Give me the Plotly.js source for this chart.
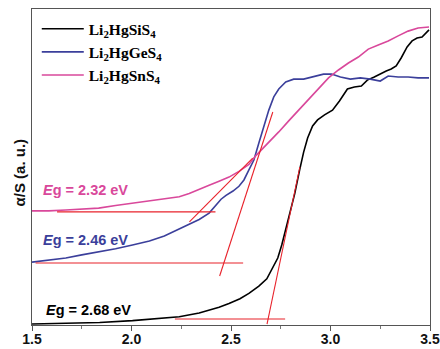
<!DOCTYPE html>
<html>
<head>
<meta charset="utf-8">
<script src="https://cdn.plot.ly/plotly-3.0.1.min.js"></script>
<style>html,body{margin:0;padding:0;background:#fff;}#chart{width:440px;height:349px;}</style>
</head>
<body>
<div id="chart"></div>
<script>
// Li2HgSiS4 (black)
const siX = [1.50,1.67,1.84,2.005,2.14,2.24,2.34,2.44,2.49,2.545,2.59,2.64,2.68,2.71,2.735,2.755,2.775,2.795,2.82,2.845,2.865,2.885,2.91,2.935,2.97,3.01,3.045,3.085,3.12,3.155,3.185,3.22,3.245,3.28,3.305,3.33,3.355,3.385,3.41,3.435,3.46,3.48,3.495];
const siY = [0.003,0.005,0.008,0.014,0.021,0.026,0.038,0.056,0.068,0.083,0.100,0.123,0.146,0.180,0.212,0.253,0.301,0.348,0.415,0.491,0.547,0.592,0.630,0.649,0.665,0.680,0.709,0.747,0.753,0.756,0.775,0.785,0.794,0.804,0.810,0.820,0.845,0.880,0.899,0.908,0.911,0.924,0.934];
// Li2HgGeS4 (blue)
const geX = [1.50,1.585,1.67,1.75,1.835,1.92,2.005,2.09,2.165,2.24,2.29,2.34,2.39,2.425,2.45,2.475,2.51,2.54,2.565,2.59,2.615,2.64,2.665,2.69,2.715,2.74,2.775,2.815,2.865,2.915,2.965,3.005,3.05,3.10,3.15,3.20,3.25,3.29,3.34,3.39,3.44,3.495];
const geY = [0.199,0.206,0.212,0.222,0.231,0.241,0.253,0.266,0.282,0.304,0.318,0.334,0.354,0.378,0.398,0.410,0.424,0.439,0.459,0.491,0.522,0.576,0.630,0.680,0.722,0.747,0.769,0.778,0.778,0.785,0.794,0.794,0.785,0.778,0.782,0.778,0.772,0.788,0.785,0.785,0.782,0.782];
// Li2HgSnS4 (pink)
const snX = [1.50,1.585,1.67,1.75,1.835,1.92,2.005,2.09,2.165,2.24,2.29,2.34,2.39,2.44,2.49,2.54,2.59,2.625,2.675,2.74,2.79,2.84,2.89,2.94,2.99,3.04,3.09,3.14,3.19,3.24,3.29,3.34,3.39,3.44,3.495];
const snY = [0.361,0.361,0.364,0.367,0.370,0.378,0.386,0.392,0.399,0.406,0.416,0.428,0.442,0.455,0.468,0.486,0.508,0.536,0.568,0.611,0.646,0.680,0.715,0.750,0.782,0.807,0.829,0.848,0.873,0.886,0.899,0.915,0.930,0.940,0.943];
// Tauc tangent and baseline segments
const fitSnX = [1.626,2.422,null,2.291,2.609];
const fitSnY = [0.358,0.358,null,0.326,0.528];
const fitGeX = [1.518,2.561,null,2.443,2.710];
const fitGeY = [0.196,0.196,null,0.155,0.674];
const fitSiX = [2.218,2.772,null,2.681,2.846];
const fitSiY = [0.019,0.019,null,0.003,0.500];
const seriesNames = ['Li<sub>2</sub>HgSiS<sub>4</sub>','Li<sub>2</sub>HgGeS<sub>4</sub>','Li<sub>2</sub>HgSnS<sub>4</sub>'];
const egLabels = ['<i>E</i>g = 2.68 eV','<i>E</i>g = 2.46 eV','<i>E</i>g = 2.32 eV'];
const tickVals = [1.5,2.0,2.5,3.0,3.5];
const tickText = ['1.5','2.0','2.5','3.0','3.5'];

const cBlack = '#000000', cBlue = '#3b3f9b', cPink = '#d9489b', cRed = '#e8222b';

const traces = [
  {x: siX, y: siY, name: seriesNames[0], mode: 'lines', line: {color: cBlack, width: 1.6}},
  {x: geX, y: geY, name: seriesNames[1], mode: 'lines', line: {color: cBlue, width: 1.6}},
  {x: snX, y: snY, name: seriesNames[2], mode: 'lines', line: {color: cPink, width: 1.6}},
  {x: fitSnX, y: fitSnY, mode: 'lines', showlegend: false, line: {color: cRed, width: 1.1}, connectgaps: false},
  {x: fitGeX, y: fitGeY, mode: 'lines', showlegend: false, line: {color: cRed, width: 1.1}, connectgaps: false},
  {x: fitSiX, y: fitSiY, mode: 'lines', showlegend: false, line: {color: cRed, width: 1.1}, connectgaps: false}
];

const egFont = (c) => ({family: 'Liberation Sans, Arial, sans-serif', size: 14.5, color: c, weight: 'bold'});

const layout = {
  width: 440, height: 349,
  margin: {l: 32, r: 10, t: 9, b: 24, pad: 0},
  paper_bgcolor: '#fff', plot_bgcolor: '#fff',
  showlegend: true,
  legend: {
    x: 0.012, y: 0.99, xanchor: 'left', yanchor: 'top',
    bgcolor: 'rgba(0,0,0,0)', borderwidth: 0,
    itemwidth: 42,
    font: {family: 'Liberation Serif, Times New Roman, serif', size: 15.5, color: '#000', weight: 'bold'},
    tracegroupgap: 0
  },
  xaxis: {
    range: [1.5, 3.5], tickvals: tickVals, ticktext: tickText,
    ticks: 'outside', ticklen: 5, tickwidth: 1, tickcolor: '#555',
    ticklabelstandoff: -4,
    minor: {dtick: 0.25, ticks: 'outside', ticklen: 3, tickcolor: '#777', tickwidth: 1},
    showgrid: false, zeroline: false,
    showline: true, linecolor: '#555', linewidth: 1.3, mirror: true,
    tickfont: {family: 'Liberation Sans, Arial, sans-serif', size: 14, color: '#111', weight: 'bold'}
  },
  yaxis: {
    range: [0, 1], showticklabels: false, ticks: '',
    showgrid: false, zeroline: false,
    showline: true, linecolor: '#555', linewidth: 1.3, mirror: true
  },
  annotations: [
    {xref: 'paper', yref: 'paper', x: -0.058, y: 0.484, text: 'α/S (a. u.)', textangle: -90,
     showarrow: false, font: {family: 'Liberation Sans, Arial, sans-serif', size: 15, color: '#111', weight: 'bold'}},
    {x: 1.782, y: 0.047, text: egLabels[0], showarrow: false, font: egFont(cBlack)},
    {x: 1.767, y: 0.269, text: egLabels[1], showarrow: false, font: egFont(cBlue)},
    {x: 1.770, y: 0.427, text: egLabels[2], showarrow: false, font: egFont(cPink)}
  ]
};

Plotly.newPlot('chart', traces, layout, {staticPlot: true, displayModeBar: false});
</script>
</body>
</html>
